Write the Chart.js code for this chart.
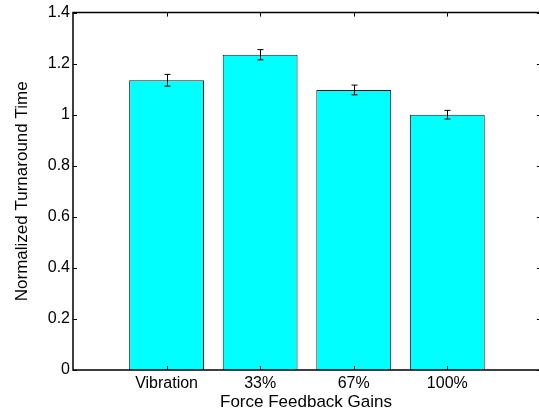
<!DOCTYPE html>
<html>
<head>
<meta charset="utf-8">
<script src="https://cdn.jsdelivr.net/npm/chart.js@4"></script>
<style>
  html, body { margin: 0; padding: 0; background: #fff; overflow: hidden; }
  canvas { display: block; }
</style>
</head>
<body>
<canvas id="chart" width="539" height="416"></canvas>
<script>
// data
const categories = ['Vibration', '33%', '67%', '100%'];
const means = [1.135, 1.235, 1.097, 1.0];
const errors = [0.023, 0.02, 0.019, 0.017];
const yTicks = [0, 0.2, 0.4, 0.6, 0.8, 1, 1.2, 1.4];

// original axes run 0..5 but the figure is cropped just before x = 5
const X_MIN = 0, X_AXIS_END = 5, X_VISIBLE_MAX = 4.98;

const TICK_FONT = { family: '"Liberation Sans", Arial, sans-serif', size: 16 };
const TITLE_FONT = { family: '"Liberation Sans", Arial, sans-serif', size: 17 };

// matlab style frame: box + inward ticks + error bars
const matlabFrame = {
    id: 'matlabFrame',
    afterDatasetsDraw(chart) {
        const ctx = chart.ctx;
        const a = chart.chartArea;
        const xs = chart.scales.x, ys = chart.scales.y;
        const xEnd = xs.getPixelForValue(X_AXIS_END);
        ctx.save();

        // error bars
        ctx.strokeStyle = '#000';
        ctx.lineWidth = 1;
        means.forEach((m, i) => {
            const px = Math.round(xs.getPixelForValue(i + 1)) + 0.5;
            const yHi = ys.getPixelForValue(m + errors[i]);
            const yLo = ys.getPixelForValue(m - errors[i]);
            ctx.beginPath();
            ctx.moveTo(px, yHi); ctx.lineTo(px, yLo);
            ctx.moveTo(px - 3, yHi); ctx.lineTo(px + 3, yHi);
            ctx.moveTo(px - 3, yLo); ctx.lineTo(px + 3, yLo);
            ctx.stroke();
        });

        // box (the right side is off the picture)
        ctx.strokeStyle = '#000';
        ctx.lineWidth = 1.5;
        ctx.beginPath();
        ctx.moveTo(xEnd, a.top);
        ctx.lineTo(a.left, a.top);
        ctx.lineTo(a.left, a.bottom);
        ctx.lineTo(xEnd, a.bottom);
        ctx.stroke();

        // inward ticks
        ctx.lineWidth = 1;
        ctx.beginPath();
        yTicks.forEach(v => {
            const py = Math.round(ys.getPixelForValue(v)) + 0.5;
            ctx.moveTo(a.left, py); ctx.lineTo(a.left + 4, py);
            ctx.moveTo(xEnd, py); ctx.lineTo(xEnd - 4, py);
        });
        categories.forEach((c, i) => {
            const px = Math.round(xs.getPixelForValue(i + 1)) + 0.5;
            ctx.moveTo(px, a.bottom); ctx.lineTo(px, a.bottom - 4);
            ctx.moveTo(px, a.top); ctx.lineTo(px, a.top + 4);
        });
        ctx.stroke();
        ctx.restore();
    }
};

new Chart(document.getElementById('chart').getContext('2d'), {
    type: 'bar',
    data: {
        datasets: [{
            data: means.map((m, i) => ({ x: i + 1, y: m })),
            backgroundColor: '#00FFFF',
            borderColor: '#1a1a1a',
            borderWidth: 1,
            barPercentage: 0.8,
            categoryPercentage: 1
        }]
    },
    plugins: [matlabFrame],
    options: {
        responsive: false,
        animation: false,
        devicePixelRatio: 1,
        layout: { padding: { top: 11, right: 0, left: 0, bottom: 0 } },
        plugins: {
            legend: { display: false },
            tooltip: { enabled: false }
        },
        scales: {
            x: {
                type: 'linear',
                min: X_MIN,
                max: X_VISIBLE_MAX,
                offset: false,
                afterBuildTicks: s => { s.ticks = categories.map((c, i) => ({ value: i + 1 })); },
                afterFit: s => { s.height = 46; },
                grid: { display: false, drawTicks: false, offset: false },
                border: { display: false },
                ticks: {
                    color: '#000',
                    font: TICK_FONT,
                    padding: 4,
                    maxRotation: 0,
                    autoSkip: false,
                    callback: v => categories[v - 1]
                },
                title: {
                    display: true,
                    text: 'Force Feedback Gains',
                    color: '#000',
                    font: TITLE_FONT,
                    padding: { top: 0, bottom: 3 }
                }
            },
            y: {
                min: 0,
                max: 1.4,
                afterBuildTicks: s => { s.ticks = yTicks.map(v => ({ value: v })); },
                afterFit: s => { s.width = 73; },
                grid: { display: false, drawTicks: false },
                border: { display: false },
                ticks: {
                    color: '#000',
                    font: TICK_FONT,
                    padding: 3,
                    callback: v => String(+v.toFixed(1))
                },
                title: {
                    display: true,
                    text: 'Normalized Turnaround Time',
                    color: '#000',
                    font: TITLE_FONT,
                    padding: { top: 12, bottom: 0 }
                }
            }
        }
    }
});
</script>
</body>
</html>
